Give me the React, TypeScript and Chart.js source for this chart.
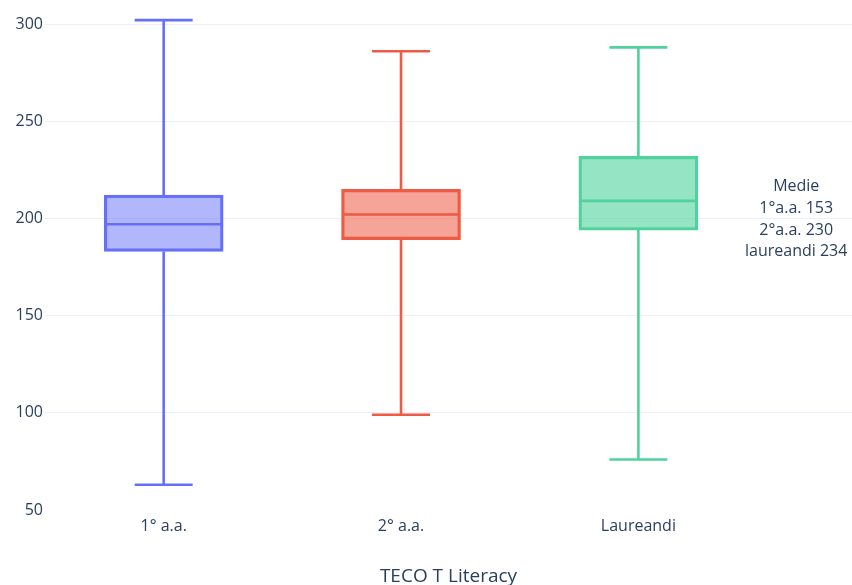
import React, { useEffect, useRef } from "react";
import { Chart, registerables } from "chart.js";

Chart.register(...registerables);

const categories = ["1° a.a.", "2° a.a.", "Laureandi"];
const mins = [63, 99, 76];
const q1s = [183, 189, 194];
const medians = [197, 202, 209];
const q3s = [212, 215, 232];
const maxs = [302, 286, 288];
const colors = ["#666ff8", "#ef5a43", "#4fd29c"];
const fills = ["rgba(102,111,248,0.5)", "rgba(239,90,67,0.55)", "rgba(79,210,156,0.6)"];
const yTicks = [50, 100, 150, 200, 250, 300];
const noteLines = ["Medie", "1°a.a. 153", "2°a.a. 230", "laureandi 234"];
const notePos = { x: 2.665, y: 199.5 };
const xTitle = "TECO T Literacy";

const FONT = "'Open Sans', 'Noto Sans', sans-serif";
const TEXT = "#2a3f5f";

export default function App() {
  const ref = useRef<HTMLCanvasElement | null>(null);
  useEffect(() => {
    if (!ref.current) return;
    const boxPlugin = {
      id: "boxExtras",
      afterDatasetsDraw(chart: any) {
        const { ctx, scales } = chart;
        const xs = scales.x;
        const ys = scales.y;
        ctx.save();
        ctx.lineWidth = 2.6;
        categories.forEach((_, i) => {
          const x = xs.getPixelForValue(i);
          const halfBox = 58;
          const halfCap = 29;
          ctx.strokeStyle = colors[i];
          ctx.beginPath();
          ctx.moveTo(x, ys.getPixelForValue(q3s[i]));
          ctx.lineTo(x, ys.getPixelForValue(maxs[i]));
          ctx.moveTo(x - halfCap, ys.getPixelForValue(maxs[i]));
          ctx.lineTo(x + halfCap, ys.getPixelForValue(maxs[i]));
          ctx.moveTo(x, ys.getPixelForValue(q1s[i]));
          ctx.lineTo(x, ys.getPixelForValue(mins[i]));
          ctx.moveTo(x - halfCap, ys.getPixelForValue(mins[i]));
          ctx.lineTo(x + halfCap, ys.getPixelForValue(mins[i]));
          ctx.moveTo(x - halfBox, ys.getPixelForValue(medians[i]));
          ctx.lineTo(x + halfBox, ys.getPixelForValue(medians[i]));
          ctx.stroke();
        });
        ctx.fillStyle = TEXT;
        ctx.font = `16px ${FONT}`;
        ctx.textAlign = "center";
        ctx.textBaseline = "middle";
        const cx = xs.getPixelForValue(notePos.x);
        const cy = ys.getPixelForValue(notePos.y);
        const lh = 21.7;
        const start = cy - (lh * (noteLines.length - 1)) / 2;
        noteLines.forEach((t, k) => ctx.fillText(t, cx, start + k * lh));
        ctx.restore();
      },
    };

    const chart = new Chart(ref.current, {
      type: "bar",
      data: {
        datasets: [
          {
            data: categories.map((_, i) => ({ x: i, y: [q1s[i], q3s[i]] })) as any,
            backgroundColor: fills,
            borderColor: colors,
            borderWidth: 2.6,
            borderSkipped: false,
            barThickness: 119,
          },
        ],
      },
      options: {
        responsive: false,
        animation: false,
        maintainAspectRatio: false,
        layout: { padding: 0 },
        plugins: { legend: { display: false }, tooltip: { enabled: false } },
        scales: {
          x: {
            type: "linear",
            offset: false,
            min: -0.5,
            max: 2.9,
            afterBuildTicks: (axis: any) => {
              axis.ticks = categories.map((_, i) => ({ value: i }));
            },
            afterFit: (axis: any) => {
              axis.height = 75;
              axis.paddingLeft = 0;
              axis.paddingRight = 0;
            },
            grid: { display: false, drawTicks: false, offset: false },
            border: { display: false },
            ticks: {
              padding: 7,
              color: TEXT,
              font: { family: FONT, size: 16 },
              maxRotation: 0,
              autoSkip: false,
              callback: (v: any) => categories[v as number] ?? "",
            },
            title: {
              display: true,
              text: xTitle,
              color: TEXT,
              font: { family: FONT, size: 19 },
              padding: { top: 0, bottom: -3 },
            },
          },
          y: {
            type: "linear",
            min: 50,
            max: 312.35,
            afterBuildTicks: (axis: any) => {
              axis.ticks = yTicks.map((v) => ({ value: v }));
            },
            afterFit: (axis: any) => {
              axis.width = 45;
              axis.paddingTop = 0;
              axis.paddingBottom = 0;
            },
            grid: {
              drawTicks: false,
              color: (c: any) => (c.tick && c.tick.value === 50 ? "rgba(0,0,0,0)" : "#ebf0f8"),
              lineWidth: 1,
            },
            border: { display: false },
            ticks: {
              padding: 2,
              color: TEXT,
              font: { family: FONT, size: 16 },
            },
          },
        },
      },
      plugins: [boxPlugin],
    });
    return () => chart.destroy();
  }, []);

  return (
    <div style={{ position: "absolute", left: 0, top: 0, width: 852, height: 585, background: "#fff" }}>
      <canvas ref={ref} width={852} height={585} style={{ width: 852, height: 585 }} />
    </div>
  );
}
